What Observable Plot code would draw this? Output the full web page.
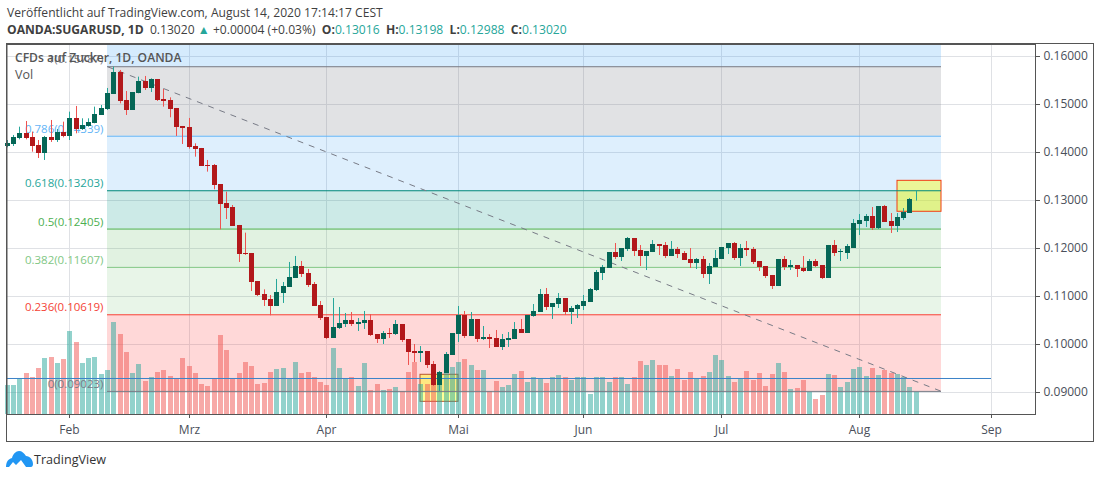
<!DOCTYPE html>
<html><head><meta charset="utf-8">
<script src="https://cdn.jsdelivr.net/npm/d3@7"></script>
<script src="https://cdn.jsdelivr.net/npm/@observablehq/plot@0.6"></script>
<style>
html,body{margin:0;padding:0;background:#fff;width:1100px;height:478px;overflow:hidden;font-family:"Open Sans",sans-serif;color:#3f3f3f}
#head{height:43px;position:relative;font-size:12.1px;white-space:nowrap}
#head div{position:absolute;left:7px}
#head .t{color:#26a69a}
#chart{position:relative;height:399px}
#chart svg{display:block}
#box{position:absolute;left:6px;top:0;width:1086px;height:397px;border:1px solid #555;pointer-events:none}
#foot{position:relative;height:36px;font-size:12.6px}
#foot svg{position:absolute;left:6px;top:9px}
#foot span{position:absolute;left:34px;top:9px;color:#333}
</style></head><body>
<div id="head">
<div style="top:4px">Veröffentlicht auf TradingView.com, August 14, 2020 17:14:17 CEST</div>
<div style="top:21px"><b>OANDA:SUGARUSD, 1D</b>&nbsp; 0.13020 <span class="t">▲</span> +0.00004 (+0.03%) &nbsp;<b>O:</b><span class="t">0.13016</span> &nbsp;<b>H:</b><span class="t">0.13198</span> &nbsp;<b>L:</b><span class="t">0.12988</span> &nbsp;<b>C:</b><span class="t">0.13020</span></div>
</div>
<div id="chart"><div id="box"></div></div>
<div id="foot">
<svg width="27" height="16" viewBox="0 0 27 16"><path d="M0 16C0 11 2 8 6 7C7 3 10 0 13 0C16 0 18 2 20 5C24 5 27 9 27 13C27 15 26 16 25 16L20 16L15 9L10 14L7 11L3 16Z" fill="#2196f3"/></svg>
<span>TradingView</span>
</div>
<script>
const open=[.14125,.14167,.14285,.14396,.14313,.14146,.13980,.14313,.14250,.14417,
.14334,.14709,.14480,.14542,.14605,.14771,.14896,.15209,.15667,.15084,
.14875,.15230,.15480,.15334,.15521,.15105,.15084,.14917,.14542,.14521,
.14125,.14084,.13730,.13730,.13333,.12938,.12854,.12480,.11889,.11896,
.11313,.11042,.10938,.10792,.11063,.11188,.11375,.11625,.11480,.11250,
.10813,.10563,.10125,.10333,.10417,.10500,.10417,.10438,.10500,.10208,
.10104,.10229,.10208,.10417,.10104,.09854,.09813,.09854,.09583,.09146,
.09396,.09771,.10208,.10597,.10167,.10521,.10104,.10146,.10125,.09938,
.10083,.10104,.10313,.10229,.10583,.10667,.11042,.10771,.10833,.10958,
.10667,.10729,.10792,.10875,.11125,.11479,.11583,.11916,.11812,.11979,
.12208,.11958,.11833,.11916,.12083,.12062,.11833,.11979,.11896,.11771,
.11687,.11771,.11458,.11604,.11771,.12000,.12104,.11791,.12000,.11979,
.11729,.11625,.11438,.11208,.11771,.11604,.11646,.11583,.11521,.11729,
.11646,.11375,.12063,.11917,.11896,.12000,.12500,.12563,.12667,.12417,
.12875,.12563,.12458,.12625,.12729,.13016];
const close=[.14195,.14313,.14396,.14292,.14125,.13980,.14313,.14250,.14417,.14334,
.14709,.14480,.14563,.14625,.14792,.14917,.15230,.15667,.15063,.14875,
.15250,.15480,.15334,.15521,.15084,.15063,.14896,.14521,.14500,.14105,
.14063,.13709,.13709,.13313,.12917,.12834,.12459,.11875,.11868,.11292,
.11021,.10917,.10792,.11084,.11209,.11396,.11625,.11459,.11230,.10792,
.10542,.10125,.10354,.10438,.10500,.10417,.10458,.10500,.10188,.10104,
.10229,.10208,.10417,.10083,.09833,.09813,.09854,.09563,.09146,.09417,
.09792,.10229,.10597,.10167,.10521,.10104,.10146,.10104,.09938,.10104,
.10125,.10313,.10229,.10604,.10687,.11042,.10771,.10854,.10958,.10667,
.10750,.10812,.10896,.11146,.11500,.11604,.11916,.11812,.12000,.12208,
.11937,.11833,.11937,.12083,.12041,.11833,.11979,.11875,.11750,.11687,
.11771,.11458,.11625,.11791,.12021,.12104,.11791,.12000,.11958,.11708,
.11604,.11417,.11208,.11771,.11604,.11646,.11563,.11521,.11729,.11625,
.11375,.12063,.11896,.11938,.12042,.12521,.12583,.12667,.12417,.12875,
.12542,.12458,.12646,.12750,.13021,.13020];
const high=[.14250,.14355,.14528,.14646,.14424,.14250,.14334,.14667,.14480,.14632,
.14841,.14959,.14702,.14702,.14945,.14980,.15334,.15778,.15709,.15271,
.15250,.15570,.15584,.15535,.15521,.15313,.15139,.14917,.14542,.14709,
.14181,.14084,.13834,.13750,.13333,.13174,.12896,.12480,.12320,.11896,
.11313,.11139,.11021,.11355,.11292,.11709,.11834,.11730,.11563,.11292,
.10896,.10563,.10958,.10771,.10646,.10667,.10542,.10688,.10625,.10208,
.10271,.10333,.10500,.10417,.10104,.10000,.09958,.09854,.09646,.09438,
.09833,.10229,.10792,.10688,.10667,.10521,.10375,.10208,.10292,.10208,
.10250,.10458,.10521,.10604,.10833,.11146,.11167,.10854,.11062,.10958,
.10792,.10833,.11021,.11167,.11541,.11646,.11916,.12104,.12000,.12229,
.12208,.12062,.11937,.12166,.12083,.12125,.12146,.12021,.11937,.12000,
.11791,.11833,.11687,.11958,.12021,.12104,.12125,.12083,.12146,.12021,
.11729,.11625,.11438,.11771,.11833,.11750,.11646,.11833,.11771,.11771,
.11646,.12063,.12167,.11979,.12083,.12604,.12708,.12708,.12854,.12875,
.12896,.12729,.12729,.12833,.13042,.13198];
const low=[.14098,.14125,.14264,.14264,.14007,.13875,.13834,.14209,.14209,.14306,
.14250,.14389,.14459,.14528,.14598,.14771,.14875,.15209,.15014,.14771,
.14875,.15223,.15292,.15250,.15063,.14945,.14723,.14334,.14167,.14070,
.13903,.13709,.13591,.13223,.12389,.12604,.12459,.11709,.11855,.11105,
.11000,.10792,.10598,.10792,.10855,.11188,.11375,.11396,.11188,.10792,
.10500,.10104,.10125,.10313,.10354,.10375,.10271,.10313,.10167,.10021,
.10000,.10125,.10188,.10042,.09563,.09625,.09625,.09500,.09125,.09021,
.09396,.09771,.10042,.10125,.10167,.10042,.10083,.09917,.09938,.09875,
.09938,.10104,.10229,.10229,.10569,.10667,.10708,.10521,.10750,.10604,
.10417,.10541,.10708,.10875,.11104,.11333,.11583,.11771,.11729,.11937,
.11833,.11625,.11541,.11916,.11854,.11791,.11833,.11791,.11750,.11583,
.11562,.11375,.11250,.11604,.11771,.11875,.11750,.11625,.11833,.11667,
.11521,.11375,.11146,.11208,.11542,.11542,.11396,.11500,.11521,.11604,
.11354,.11375,.11833,.11729,.11771,.12000,.12271,.12438,.12375,.12396,
.12542,.12313,.12333,.12583,.12729,.12988];
const volume=[29,29,35,41,37,46,56,57,51,55,
83,72,51,56,57,40,44,92,80,62,
41,50,33,37,42,44,38,35,56,48,
41,30,28,36,79,64,35,41,52,48,
30,31,42,45,46,35,52,41,42,37,
32,29,66,46,35,37,28,51,24,30,
24,25,27,23,42,52,30,30,29,38,
41,47,52,55,49,44,44,23,33,27,
29,40,43,32,37,35,31,37,39,37,
34,37,37,20,37,37,32,37,37,30,
37,53,49,54,49,49,38,45,34,42,
35,38,42,59,54,38,32,35,43,34,
41,28,40,51,42,25,26,34,22,15,
19,40,39,27,32,45,47,38,46,39,
44,41,40,37,27,22];
const fibLevels=[1,0.786,0.618,0.5,0.382,0.236,0];
const fibPrices=[0.15787,0.14339,0.13203,0.12405,0.11607,0.10619,0.09023];
const fibLabels=["1(0.15787)","0.786(0.14339)","0.618(0.13203)","0.5(0.12405)","0.382(0.11607)","0.236(0.10619)","0(0.09023)"];
const fibLine=["#787b86","#64b5f6","#00897b","#4caf50","#81c784","#f44336","#787b86"];
const fibText=["#787b86","#64b5f6","#26a69a","#4caf50","#81c784","#f44336","#787b86"];
const fibFill=["#2196f3","#787b86","#2196f3","#009688","#4caf50","#4caf50","#ff3b3b"];
const fibAlpha=[.19,.22,.15,.2,.17,.13,.2];
const fibStart=16, fibEnd=149, horizEnd=157, horizPrice=0.09292;
const monthIdx=[10,29,51,72,92,114,136,157];
const monthNames=["Feb","Mrz","Apr","Mai","Jun","Jul","Aug","Sep"];
const priceTicks=[.09,.10,.11,.12,.13,.14,.15,.16];
const boxes=[{x1:66,x2:72,y1:.08806,y2:.09369,stroke:"#b8562e"},{x1:142,x2:149,y1:.12765,y2:.13410,stroke:"#f23c13"}];
const priceMin=0.085417, priceMax=0.1625, volumeUnit=1/4800;

const bars=open.map((o,i)=>({i,o,c:close[i],h:high[i],l:low[i],v:volume[i],up:close[i]>=o}));
const bandTops=[priceMax,...fibPrices.slice(0,-1)];
const bands=fibPrices.map((p,k)=>({top:bandTops[k],bottom:p,fill:fibFill[k],a:fibAlpha[k]}));
const lines=fibPrices.map((p,k)=>({p,stroke:fibLine[k],label:fibLabels[k],tc:fibText[k]}));
const font='"Open Sans",sans-serif';
const plot=Plot.plot({
  width:1100,height:399,marginLeft:6.5,marginRight:65,marginTop:1,marginBottom:28,
  style:{fontFamily:font,background:"transparent"},
  x:{type:"linear",domain:[-0.032,164.03],round:true,label:null},
  y:{type:"linear",domain:[priceMin,priceMax],label:null},
  marks:[
    Plot.gridY(priceTicks,{stroke:"#dfe1e5",strokeOpacity:1}),
    Plot.gridX(monthIdx,{stroke:"#dfe1e5",strokeOpacity:1}),
    Plot.rect(bands,{x1:()=>fibStart,x2:()=>fibEnd,y1:"bottom",y2:"top",fill:"fill",fillOpacity:"a",inset:0}),
    Plot.rect(boxes,{x1:"x1",x2:"x2",y1:"y1",y2:"y2",fill:"#ffff00",fillOpacity:.4,stroke:"stroke",strokeWidth:1}),
    Plot.ruleX(bars,{x:"i",y1:()=>priceMin,y2:d=>priceMin+d.v*volumeUnit,stroke:d=>d.up?"#26a69a":"#ef5350",strokeOpacity:.5,strokeWidth:5,shapeRendering:"crispEdges"}),
    Plot.ruleY(lines,{y:"p",x1:()=>fibStart,x2:()=>fibEnd,stroke:"stroke",strokeWidth:1}),
    Plot.ruleY([horizPrice],{x1:-0.032,x2:horizEnd,stroke:"#3b82c8",strokeWidth:1}),
    Plot.link([0],{x1:()=>fibStart,x2:()=>fibEnd,y1:()=>fibPrices[0],y2:()=>fibPrices[6],stroke:"#787b86",strokeWidth:1,strokeDasharray:"6 6"}),
    Plot.text(lines,{x:()=>fibStart,y:"p",text:"label",fill:"tc",textAnchor:"end",dx:-4,dy:-7,fontSize:11.5,fontFamily:font}),
    Plot.ruleX(bars,{x:"i",y1:"l",y2:"h",stroke:d=>d.up?"#26a69a":"#ef5350",strokeWidth:1}),
    Plot.ruleX(bars,{x:"i",y1:"o",y2:"c",stroke:d=>d.up?"#056656":"#b2181b",strokeWidth:5,shapeRendering:"crispEdges"}),
    Plot.text(["CFDs auf Zucker, 1D, OANDA"],{frameAnchor:"top-left",dx:8,dy:9,fill:"#555",fontSize:12.1,fontWeight:600,fontFamily:font}),
    Plot.text(["Vol"],{frameAnchor:"top-left",dx:8,dy:26,fill:"#555",fontSize:12.5,fontFamily:font}),
    Plot.axisY(priceTicks,{anchor:"right",tickSize:4,tickPadding:4,tickFormat:d3.format(".5f"),fontSize:12,fill:"#4a4f5a",stroke:"#555",label:null}),
    Plot.axisX(monthIdx,{anchor:"bottom",tickSize:4,tickPadding:7,tickFormat:d=>monthNames[monthIdx.indexOf(d)],fontSize:12,fill:"#4a4f5a",stroke:"#555",label:null}),
    Plot.frame({stroke:"#555"})
  ]
});
document.getElementById("chart").appendChild(plot);
</script>
</body></html>
